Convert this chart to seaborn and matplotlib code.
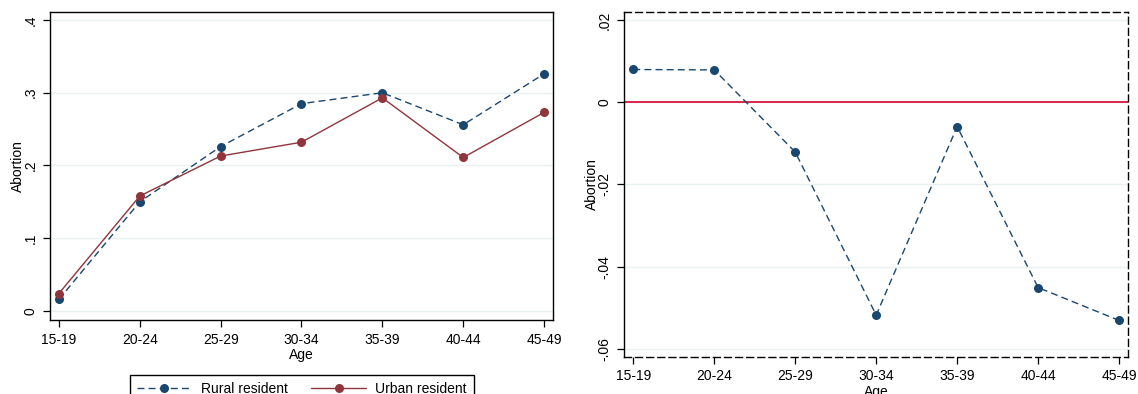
import pandas as pd
import seaborn as sns
import matplotlib.pyplot as plt
from matplotlib.lines import Line2D

ages = ['15-19', '20-24', '25-29', '30-34', '35-39', '40-44', '45-49']
rural = [0.016, 0.150, 0.226, 0.285, 0.300, 0.256, 0.326]
urban = [0.024, 0.158, 0.213, 0.232, 0.293, 0.211, 0.273]
gap = [0.0080, 0.0079, -0.0121, -0.0518, -0.0059, -0.0451, -0.0531]

left_ticks = [0, 0.1, 0.2, 0.3, 0.4]
left_ticklabels = ['0', '.1', '.2', '.3', '.4']
right_ticks = [0.02, 0, -0.02, -0.04, -0.06]
right_ticklabels = ['.02', '0', '-.02', '-.04', '-.06']

navy = '#1a476f'
maroon = '#90353b'
grid_col = '#e8f0f2'

sns.set_style('white', {'text.color': 'black', 'axes.labelcolor': 'black',
                        'xtick.color': 'black', 'ytick.color': 'black'})
plt.rcParams['font.family'] = ['Liberation Sans', 'DejaVu Sans']
plt.rcParams['font.size'] = 10

df = pd.DataFrame({
    'age': ages * 2,
    'abortion': rural + urban,
    'group': ['Rural resident'] * 7 + ['Urban resident'] * 7,
})
df_gap = pd.DataFrame({'age': ages, 'abortion': gap})

fig = plt.figure(figsize=(11.38, 3.94), dpi=100)
ax1 = fig.add_axes([50 / 1138, 1 - 320 / 394, 503 / 1138, 308 / 394])
ax2 = fig.add_axes([624 / 1138, 1 - 357 / 394, 504 / 1138, 345 / 394])

# left: rural vs urban
sns.lineplot(data=df, x='age', y='abortion', hue='group', style='group',
             palette=[navy, maroon], markers=['o', 'o'], dashes=[(5, 3), ''],
             markersize=6.5, markeredgewidth=0, linewidth=1.0, legend=False,
             ax=ax1, zorder=3)
ax1.set_xlim(-0.11, 6.11)
ax1.set_ylim(-0.0124, 0.411)
ax1.set_yticks(left_ticks)
ax1.set_yticklabels(left_ticklabels, rotation=90, va='center')

# right: difference
sns.lineplot(data=df_gap, x='age', y='abortion', color=navy, marker='o',
             markersize=6.5, markeredgewidth=0, linewidth=1.0,
             linestyle=(0, (5, 3)), ax=ax2, zorder=3)
ax2.axhline(0, color='#d6002e', linewidth=1.2, zorder=2)
ax2.set_xlim(-0.115, 6.11)
ax2.set_ylim(-0.062, 0.022)
ax2.set_yticks(right_ticks)
ax2.set_yticklabels(right_ticklabels, rotation=90, va='center')

for ax in (ax1, ax2):
    ax.yaxis.grid(True, color=grid_col, linewidth=1.0)
    ax.set_axisbelow(True)
    ax.tick_params(axis='both', direction='out', length=5, width=0.9,
                   pad=4, labelsize=10, left=True, bottom=True,
                   colors='black')
    ax.set_xlabel('Age', fontsize=10, labelpad=1, color='black')
    ax.set_ylabel('Abortion', fontsize=10, labelpad=-1, color='black')
    for s in ax.spines.values():
        s.set_color('black')
        s.set_linewidth(1.0)

for name in ('top', 'right', 'bottom'):
    ax2.spines[name].set_linestyle((0, (5, 3)))

handles = [
    Line2D([], [], color=navy, linestyle=(0, (5, 3)), marker='o', markersize=6.5,
           markeredgewidth=0, linewidth=1.0),
    Line2D([], [], color=maroon, linestyle='-', marker='o', markersize=6.5,
           markeredgewidth=0, linewidth=1.0),
]
fig.legend(handles, ['Rural resident', 'Urban resident'], loc='upper center',
           bbox_to_anchor=(302 / 1138, 1 - 368 / 394), ncol=2, frameon=True,
           fancybox=False, edgecolor='black', framealpha=1, fontsize=10,
           handlelength=3.9, handletextpad=0.7, columnspacing=1.7,
           borderpad=0.5, labelcolor='black')

fig.savefig('out.png', dpi=100)
